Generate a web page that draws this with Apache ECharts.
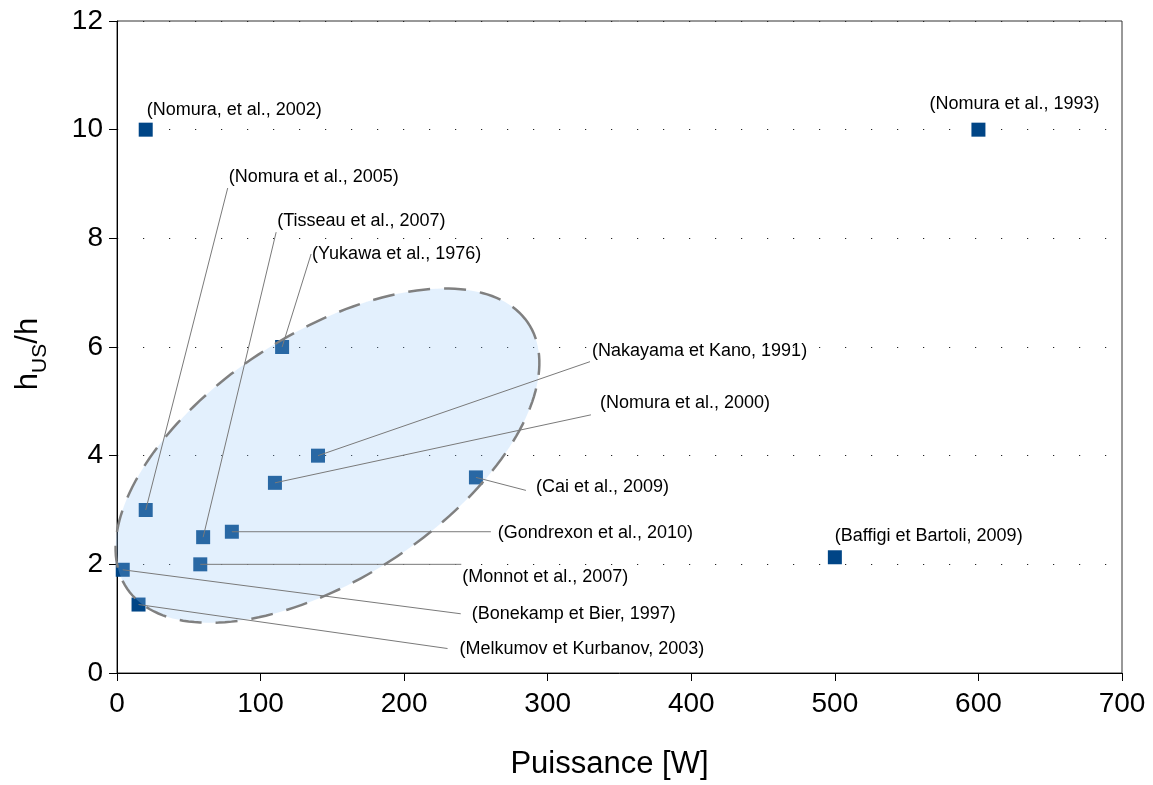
<!DOCTYPE html>
<html><head><meta charset="utf-8">
<script src="https://cdn.jsdelivr.net/npm/echarts@6/dist/echarts.min.js"></script>
<style>html,body{margin:0;padding:0;background:#fff}#c{width:1153px;height:785px}</style>
</head><body><div id="c"></div>
<script>
// ---- data ----
const refs = [
  '(Nomura, et al., 2002)',
  '(Nomura et al., 1993)',
  '(Baffigi et Bartoli, 2009)',
  '(Nomura et al., 2005)',
  '(Tisseau et al., 2007)',
  '(Yukawa et al., 1976)',
  '(Nakayama et Kano, 1991)',
  '(Nomura et al., 2000)',
  '(Cai et al., 2009)',
  '(Gondrexon et al., 2010)',
  '(Monnot et al., 2007)',
  '(Bonekamp et Bier, 1997)',
  '(Melkumov et Kurbanov, 2003)'
];
const power = [20, 600, 500, 20, 60, 115, 140, 110, 250, 80, 58, 4, 15];
const ratio = [10, 10, 2.13, 3, 2.5, 6, 4, 3.5, 3.6, 2.6, 2, 1.9, 1.26];
const xTickValues = [0, 100, 200, 300, 400, 500, 600, 700];
const xTickLabels = ['0', '100', '200', '300', '400', '500', '600', '700'];
const yTickValues = [0, 2, 4, 6, 8, 10, 12];
const yTickLabels = ['0', '2', '4', '6', '8', '10', '12'];

// ---- annotation layout (pixel offsets from each marker: leader line end, text anchor) ----
const labelLayout = [
  { line: null,       text: [1, -20] },
  { line: null,       text: [-49, -26] },
  { line: null,       text: [0, -21] },
  { line: [82, -322], text: [83, -333] },
  { line: [73, -305], text: [74, -316] },
  { line: [29, -93],  text: [30, -93] },
  { line: [272, -94], text: [274, -105] },
  { line: [316, -68], text: [325, -80] },
  { line: [50, 13],   text: [60, 10] },
  { line: [259, 0],   text: [266, 1] },
  { line: [261, 0],   text: [262, 13] },
  { line: [338, 44],  text: [349, 44] },
  { line: [309, 44],  text: [321, 44] }
];
// ellipse highlighting the cluster (in data units: centre, two semi-axis vectors)
const ellipse = { center: [146.6, 4.0], u: [139.5, 2.45], v: [-48.2, 1.86] };

const chart = echarts.init(document.getElementById('c'), null, { renderer: 'canvas' });
const FONT = '"Liberation Sans", Arial, sans-serif';

const option = {
  backgroundColor: '#fff',
  animation: false,
  grid: { left: 117, right: 31, top: 21, bottom: 106.5, show: true, borderColor: '#333', borderWidth: 1 },
  xAxis: {
    type: 'value', min: 0, max: 700, interval: 100,
    name: 'Puissance [W]', nameLocation: 'middle', nameGap: 76,
    nameTextStyle: { fontFamily: FONT, fontSize: 31, color: '#000', padding: [0, 20, 0, 0] },
    axisLine: { show: true, onZero: false, lineStyle: { color: '#000', width: 1 } },
    axisTick: { show: true, length: 8, lineStyle: { color: '#000' } },
    axisLabel: { fontFamily: FONT, fontSize: 28, color: '#000', margin: 17,
      formatter: v => { const i = xTickValues.indexOf(v); return i >= 0 ? xTickLabels[i] : ''; } },
    splitLine: { show: false }
  },
  yAxis: {
    type: 'value', min: 0, max: 12, interval: 2,
    name: '{a|h}{b|US}{a|/h}', nameLocation: 'middle', nameGap: 73, nameRotate: 90,
    nameTextStyle: {
      fontFamily: FONT, color: '#000', padding: [0, 14, 0, 0],
      rich: {
        a: { fontFamily: FONT, fontSize: 31, color: '#000', lineHeight: 31, verticalAlign: 'top' },
        b: { fontFamily: FONT, fontSize: 21, color: '#000', lineHeight: 21, padding: [17, 0, 0, 0], verticalAlign: 'top' }
      }
    },
    axisLine: { show: true, onZero: false, lineStyle: { color: '#000', width: 1 } },
    axisTick: { show: true, length: 8, lineStyle: { color: '#000' } },
    axisLabel: { fontFamily: FONT, fontSize: 28, color: '#000', margin: 14,
      formatter: v => { const i = yTickValues.indexOf(v); return i >= 0 ? yTickLabels[i] : ''; } },
    splitLine: { show: true, lineStyle: { color: '#222', width: 1.2, type: [1.2, 24.8] } }
  },
  series: [
    {
      type: 'scatter', z: 2,
      symbol: 'rect', symbolSize: 14,
      itemStyle: { color: '#004586', opacity: 1 },
      data: power.map((p, i) => [p, ratio[i]])
    },
    {
      type: 'custom', z: 3, silent: true,
      data: [[ellipse.center[0], ellipse.center[1]]],
      renderItem: (params, api) => {
        const pts = [];
        const N = 180;
        for (let k = 0; k < N; k++) {
          const t = k / N * Math.PI * 2;
          const x = ellipse.center[0] + Math.cos(t) * ellipse.u[0] + Math.sin(t) * ellipse.v[0];
          const y = ellipse.center[1] + Math.cos(t) * ellipse.u[1] + Math.sin(t) * ellipse.v[1];
          pts.push(api.coord([x, y]));
        }
        return {
          type: 'polygon', shape: { points: pts },
          style: { fill: 'rgba(152,200,248,0.27)', stroke: '#808080', lineWidth: 2.5, lineDash: [22, 14] }
        };
      }
    },
    {
      type: 'custom', z: 4, silent: true,
      data: power.map((p, i) => [p, ratio[i], i]),
      renderItem: (params, api) => {
        const i = api.value(2);
        const p = api.coord([api.value(0), api.value(1)]);
        const L = labelLayout[i];
        const children = [];
        if (L.line) {
          children.push({ type: 'line',
            shape: { x1: p[0], y1: p[1], x2: p[0] + L.line[0], y2: p[1] + L.line[1] },
            style: { stroke: '#7a7a7a', lineWidth: 1 } });
        }
        children.push({ type: 'text',
          style: { text: refs[i], x: p[0] + L.text[0], y: p[1] + L.text[1],
            align: 'left', verticalAlign: 'middle', fontSize: 18, fontFamily: FONT, fill: '#000' } });
        return { type: 'group', children };
      }
    }
  ]
};
chart.setOption(option);
</script>
</body></html>
